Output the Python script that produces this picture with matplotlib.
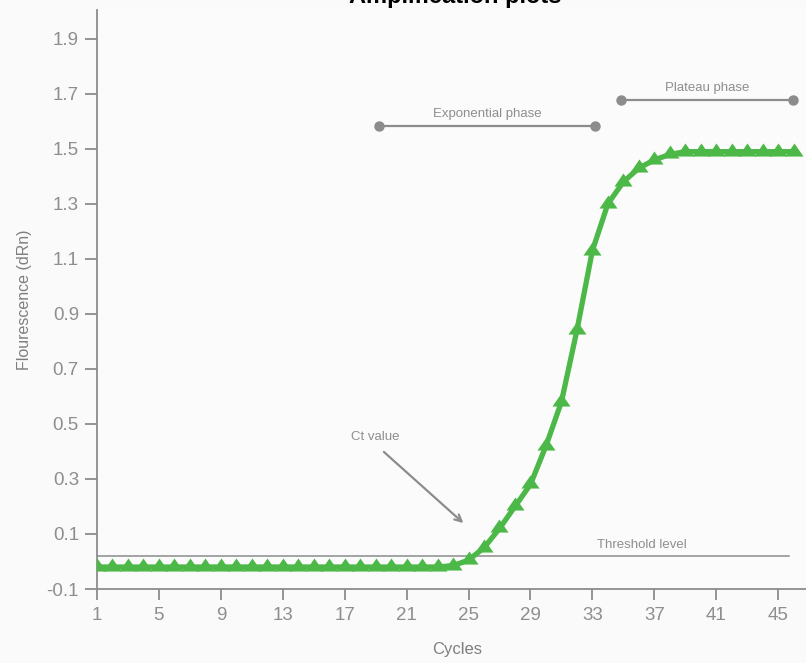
import numpy as np
import matplotlib
matplotlib.use("Agg")
import matplotlib.pyplot as plt

# Dados
ciclos = list(range(1, 47))
fluorescencia = [-0.02] * 23 + [-0.015, 0.005, 0.05, 0.12, 0.20, 0.28, 0.42, 0.58,
                                0.84, 1.13, 1.30, 1.38, 1.43, 1.46, 1.48, 1.49,
                                1.49, 1.49, 1.49, 1.49, 1.49, 1.49, 1.49]
ticks_x = [1, 5, 9, 13, 17, 21, 25, 29, 33, 37, 41, 45]
ticks_y = [-0.1, 0.1, 0.3, 0.5, 0.7, 0.9, 1.1, 1.3, 1.5, 1.7, 1.9]
limiar = 0.02
fase_exp = (19.2, 33.2, 1.584)
fase_plato = (34.85, 45.96, 1.678)

verde = "#4cb847"
cinza = "#8c8c8c"
cinza_txt = "#8e8e8e"
fonte = ["Liberation Sans", "DejaVu Sans"]

fig = plt.figure(figsize=(8.06, 6.63), dpi=100, facecolor="#fafafa")
ax = fig.add_axes([97 / 806, 74 / 663, 1 - 97 / 806, 579 / 663])
ax.set_facecolor("#fbfbfb")

# Curva de amplificação
marcador = [(-1, -0.45), (1, -0.45), (0, 1.0)]
ax.plot(ciclos, fluorescencia, color=verde, lw=3.8, marker=marcador,
        markersize=13, markeredgewidth=0, solid_capstyle="round", zorder=3)

# Linha de limiar
ax.plot([1, 45.7], [limiar, limiar], color=cinza, lw=1.1, zorder=2)
ax.text(36.2, 0.06, "Threshold level", color=cinza_txt, fontsize=9.5,
        family=fonte, ha="center", va="center")

# Fases
for (x0, x1, y), nome in [(fase_exp, "Exponential phase"), (fase_plato, "Plateau phase")]:
    ax.plot([x0, x1], [y, y], color=cinza, lw=1.6, marker="o", markersize=6.5,
            clip_on=False, zorder=2)
    ax.text((x0 + x1) / 2, y + 0.043, nome, color=cinza_txt, fontsize=9.5,
            family=fonte, ha="center", va="center")

# Valor Ct
ax.text(18.95, 0.453, "Ct value", color=cinza_txt, fontsize=9.5,
        family=fonte, ha="center", va="center")
ax.annotate("", xy=(24.8, 0.133), xytext=(19.4, 0.405),
            arrowprops=dict(arrowstyle="->", color=cinza, lw=1.6,
                            mutation_scale=12))

ax.set_xlim(1, 46.8)
ax.set_ylim(-0.1, 2.005)
ax.set_xticks(ticks_x)
ax.set_yticks(ticks_y)
ax.set_xticklabels([str(t) for t in ticks_x])
ax.set_yticklabels([f"{t:.1f}" for t in ticks_y])

for lado in ["top", "right"]:
    ax.spines[lado].set_visible(False)
for lado in ["left", "bottom"]:
    ax.spines[lado].set_color(cinza)
    ax.spines[lado].set_linewidth(1.3)

ax.tick_params(axis="y", length=9, width=1.3, color=cinza, pad=4,
               labelcolor=cinza_txt, labelsize=13.5)
ax.tick_params(axis="x", length=8, width=1.3, color=cinza, pad=5,
               labelcolor=cinza_txt, labelsize=13.5)
for rotulo in ax.get_xticklabels() + ax.get_yticklabels():
    rotulo.set_family(fonte)

ax.set_xlabel("Cycles", color="#7f7f7f", fontsize=12, family=fonte)
ax.set_ylabel("Flourescence (dRn)", color="#7f7f7f", fontsize=11.5, family=fonte)
ax.xaxis.set_label_coords((457 - 97) / 709, (589 - 642) / 579)
ax.yaxis.set_label_coords((32 - 97) / 709, (589 - 300) / 579)

fig.text(455 / 806, 1 + 4 / 663, "Amplification plots", fontsize=17,
         fontweight="bold", family=fonte, ha="center", va="center", color="black")

fig.savefig("out.png", dpi=100, facecolor=fig.get_facecolor())
